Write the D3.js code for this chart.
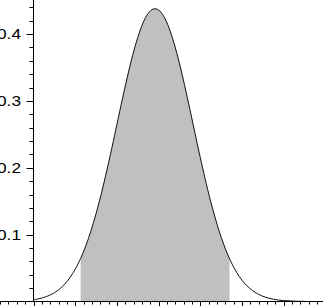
<!DOCTYPE html>
<html><head><meta charset="utf-8">
<script src="https://cdn.jsdelivr.net/npm/d3@7"></script>
<style>html,body{margin:0;padding:0;background:#fff;overflow:hidden}</style>
</head><body>
<svg id="c" width="323" height="306"></svg>
<script>
// curve samples
const xValues = [0,0.25,0.5,0.75,1,1.25,1.5,1.75,2,2.125,2.25,2.375,2.5,2.625,2.75,2.875,3,3.125,3.25,3.375,3.5,3.625,3.75,3.875,4,4.25,4.5,4.75,5,5.25,5.5,5.75,6,6.25,6.5];
const density = [0.0026,0.0061,0.0131,0.0261,0.0482,0.0826,0.1313,0.1936,0.2647,0.3010,0.3357,0.3676,0.3949,0.4164,0.4309,0.4375,0.4360,0.4263,0.4091,0.3853,0.3561,0.3229,0.2874,0.2510,0.2151,0.1494,0.0962,0.0575,0.0318,0.0164,0.0078,0.0034,0.0014,0.0005,0.0002];
// shaded interval
const shadeRange = [1.13, 4.70];
// axis ticks
const yTickLabels = ["0.1","0.2","0.3","0.4"];
const yMajorTicks = [0.1,0.2,0.3,0.4];

const svg = d3.select("#c");
const x = d3.scaleLinear().domain([0,6]).range([33.5,283.7]);
const y = d3.scaleLinear().domain([0,0.4]).range([301.5,34]);

const pts = xValues.map((v,i)=>({x:v,y:density[i]}));

svg.append("defs").append("clipPath").attr("id","sh")
  .append("rect")
  .attr("x", x(shadeRange[0])).attr("y", 0)
  .attr("width", x(shadeRange[1]) - x(shadeRange[0])).attr("height", y(0));

const area = d3.area().x(d=>x(d.x)).y0(y(0)).y1(d=>y(d.y)).curve(d3.curveCatmullRom);
svg.append("path").datum(pts).attr("d", area).attr("fill","#c0c0c0").attr("clip-path","url(#sh)");

const line = d3.line().x(d=>x(d.x)).y(d=>y(d.y)).curve(d3.curveCatmullRom);
svg.append("path").datum(pts).attr("d", line).attr("fill","none").attr("stroke","#111").attr("stroke-width",1);

// x axis
const xMinor = d3.range(-4, 35).map(i=>i/5);
const gx = svg.append("g");
gx.append("line").attr("x1",0).attr("x2",323).attr("y1",y(0)).attr("y2",y(0)).attr("stroke","#000").attr("stroke-width",1);
gx.selectAll("line.t").data(xMinor).join("line").attr("class","t")
  .attr("x1",d=>Math.round(x(d))+0.5).attr("x2",d=>Math.round(x(d))+0.5)
  .attr("y1",y(0)).attr("y2",d=>y(0)+(Math.abs(d-Math.round(d))<1e-9?5:3))
  .attr("stroke","#000").attr("stroke-width",1);

// y axis
const yMinor = d3.range(1, 23).map(i=>i/50);
const gy = svg.append("g");
gy.append("line").attr("x1",x(0)).attr("x2",x(0)).attr("y1",y(0)).attr("y2",0).attr("stroke","#000").attr("stroke-width",1);
gy.selectAll("line.t").data(yMinor).join("line").attr("class","t")
  .attr("x1",x(0)).attr("x2",d=>x(0)-(Math.abs(d*10-Math.round(d*10))<1e-9?7:4))
  .attr("y1",d=>Math.round(y(d))+0.5).attr("y2",d=>Math.round(y(d))+0.5)
  .attr("stroke","#000").attr("stroke-width",1);
gy.selectAll("text").data(yMajorTicks).join("text")
  .attr("transform",d=>`translate(21,${y(d)}) scale(1.15,1)`)
  .attr("text-anchor","end").attr("dy","0.36em")
  .attr("font-family","Liberation Sans, Arial, sans-serif").attr("font-size",15)
  .attr("fill","#000")
  .text((d,i)=>yTickLabels[i]);
</script>
</body></html>
